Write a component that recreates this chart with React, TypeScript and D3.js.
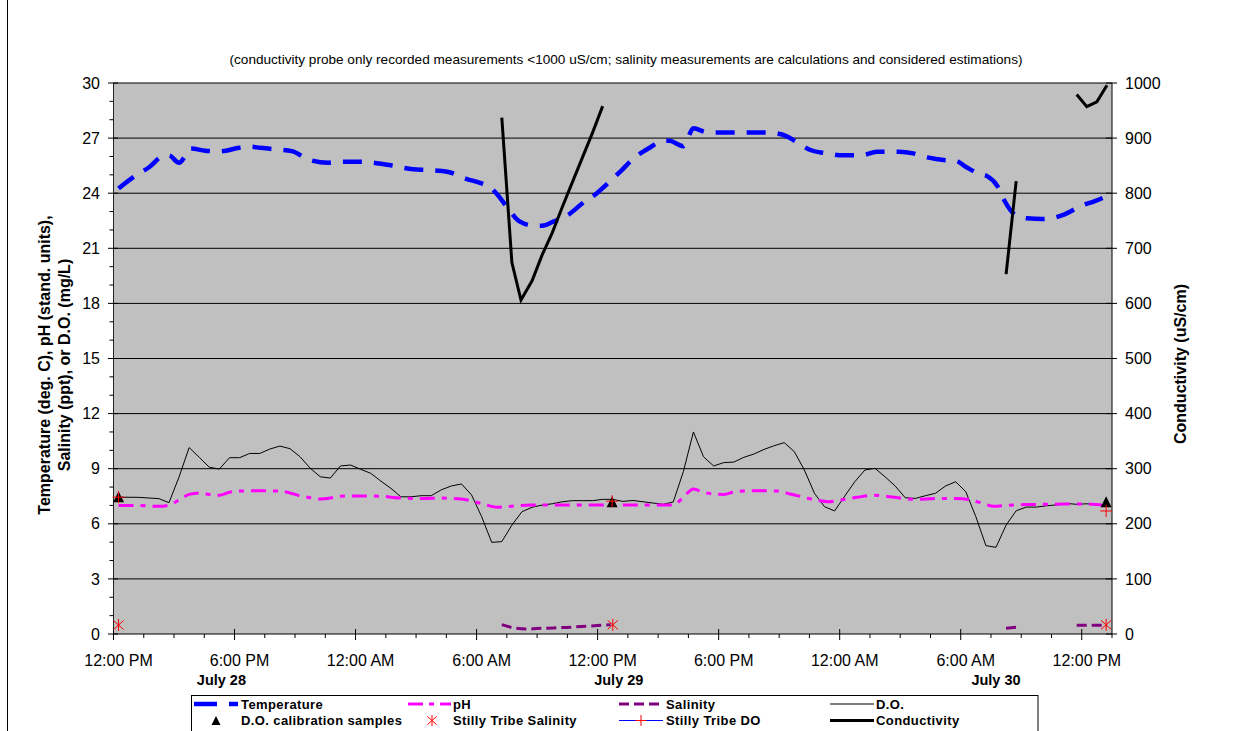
import React from "react";
import * as d3 from "d3";

// ---- data (hours since 12:00 PM July 28) ----
const temperature: [number, number][] = [
  [0, 24.26], [0.9, 25.0], [1.5, 25.4], [2.2, 26.02], [2.5, 26.05], [3.0, 25.66], [3.6, 26.44],
  [4.3, 26.31], [5, 26.28], [6, 26.47], [6.6, 26.53], [7, 26.47], [7.7, 26.4], [8.6, 26.29],
  [9.4, 25.84], [10.4, 25.66], [11, 25.71], [12, 25.71], [12.9, 25.62], [13.6, 25.5], [14.6, 25.3],
  [15.4, 25.26], [16.3, 25.17], [17.2, 24.8], [18.0, 24.53], [18.4, 24.35], [18.8, 23.9],
  [19.25, 23.26], [19.9, 22.45], [20.6, 22.23], [21, 22.23], [21.55, 22.45], [22.2, 22.75],
  [23.0, 23.45], [23.7, 23.99], [24.4, 24.68], [24.95, 25.26], [25.5, 25.86], [26.35, 26.49],
  [27, 26.85], [27.3, 26.85], [28.0, 26.56], [28.5, 27.53], [29.2, 27.31], [30.2, 27.31],
  [31, 27.31], [32, 27.31], [32.6, 27.26], [33.1, 27.11], [33.6, 26.8], [34.3, 26.35],
  [35.1, 26.17], [35.9, 26.06], [36.8, 26.06], [37.6, 26.26], [38.7, 26.26], [39.4, 26.17],
  [40.1, 25.95], [41.0, 25.8], [41.5, 25.77], [42.0, 25.44], [42.7, 25.04], [43.06, 24.93],
  [43.56, 24.4], [43.9, 23.63], [44.4, 22.86], [45.05, 22.63], [45.8, 22.59], [46.9, 22.85],
  [47.7, 23.3], [48.4, 23.57], [49, 23.84],
];

const ph: [number, number][] = [
  [0, 7.0], [1, 7.0], [2, 6.95], [2.5, 7.02], [3, 7.3], [3.5, 7.6], [4, 7.68], [4.5, 7.6],
  [5, 7.55], [5.5, 7.72], [6, 7.78], [7, 7.8], [8, 7.78], [8.5, 7.68], [9, 7.52], [9.5, 7.42],
  [10, 7.35], [10.5, 7.4], [11, 7.5], [12, 7.52], [13, 7.5], [14, 7.4], [15, 7.38], [16, 7.4],
  [17, 7.35], [18, 7.1], [18.8, 6.9], [19.5, 6.96], [20.5, 7.02], [22, 7.02], [24, 7.02],
  [26, 7.02], [27.5, 7.02], [28, 7.45], [28.5, 7.89], [29, 7.72], [29.5, 7.62], [30, 7.6],
  [30.5, 7.73], [31, 7.78], [32, 7.8], [32.7, 7.78], [33.3, 7.62], [34, 7.44], [34.5, 7.31],
  [35.2, 7.2], [35.8, 7.3], [36.6, 7.44], [37.4, 7.55], [38, 7.51], [38.9, 7.38], [39.5, 7.33],
  [40.5, 7.38], [41.5, 7.38], [42.2, 7.31], [42.9, 7.09], [43.4, 6.95], [44, 7.0], [45, 7.05],
  [46, 7.06], [47, 7.08], [48, 7.08], [49, 6.98],
];

const salinity: [number, number | null][] = [
  [19.0, 0.51], [19.6, 0.33], [20.2, 0.27], [21, 0.31], [22.2, 0.36], [23.9, 0.47], [24.4, 0.5],
  [25, null],
  [44, 0.31], [44.7, 0.4],
  [45, null],
  [47.5, 0.47], [49, 0.47],
];

const dissolvedOxygen: [number, number][] = [
  [0, 7.45], [1, 7.44], [2, 7.37], [2.5, 7.15], [3, 8.55], [3.5, 10.15], [4, 9.62], [4.5, 9.08],
  [5, 8.98], [5.5, 9.6], [6, 9.6], [6.5, 9.83], [7, 9.83], [7.5, 10.07], [8, 10.23], [8.5, 10.09],
  [9, 9.65], [9.5, 9.03], [10, 8.56], [10.5, 8.49], [11, 9.15], [11.5, 9.2], [12, 8.97],
  [12.5, 8.75], [13, 8.33], [13.5, 7.93], [14, 7.47], [14.5, 7.47], [15, 7.53], [15.5, 7.53],
  [16, 7.85], [16.5, 8.06], [17, 8.17], [17.5, 7.57], [18, 6.39], [18.5, 4.99], [19, 5.03],
  [19.5, 5.93], [20, 6.66], [20.5, 6.9], [21, 7.02], [21.5, 7.09], [22, 7.2], [22.5, 7.26],
  [23, 7.26], [23.5, 7.26], [24, 7.33], [24.5, 7.33], [25, 7.22], [25.5, 7.27], [26, 7.2],
  [26.5, 7.13], [27, 7.06], [27.5, 7.19], [28, 8.84], [28.5, 11.0], [29, 9.65], [29.5, 9.15],
  [30, 9.33], [30.5, 9.36], [31, 9.62], [31.5, 9.8], [32, 10.05], [32.5, 10.25], [33, 10.42],
  [33.5, 9.93], [34, 8.93], [34.5, 7.66], [35, 6.93], [35.5, 6.7], [36, 7.51], [36.5, 8.29],
  [37, 8.93], [37.5, 9.02], [38, 8.56], [38.5, 8.06], [39, 7.42], [39.5, 7.38], [40, 7.53],
  [40.5, 7.66], [41, 8.06], [41.5, 8.29], [42, 7.75], [42.5, 6.39], [43, 4.81], [43.5, 4.72],
  [44, 5.93], [44.5, 6.71], [45, 6.91], [45.5, 6.91], [46, 6.98], [46.5, 7.03], [47, 7.11],
  [47.5, 7.06], [48, 7.09], [49, 6.98],
];

const conductivity: [number, number | null][] = [
  [19.0, 937], [19.5, 674], [19.95, 606], [20.5, 641], [21.0, 688], [21.5, 728], [22, 775],
  [22.5, 820], [23, 865], [23.5, 910], [24, 958],
  [25, null],
  [44.0, 653], [44.5, 822],
  [45, null],
  [47.5, 979], [48, 957], [48.5, 966], [49, 996],
];

const calibrationSamples: [number, number][] = [[0, 7.47], [24.47, 7.2], [48.96, 7.2]];
const stillySalinity: [number, number][] = [[0, 0.49], [24.5, 0.5], [48.96, 0.5]];
const stillyDO: [number, number][] = [[0, 7.45], [24.47, 7.23], [48.96, 6.7]];

const timeLabels = ["12:00 PM", "6:00 PM", "12:00 AM", "6:00 AM", "12:00 PM", "6:00 PM", "12:00 AM", "6:00 AM", "12:00 PM"];
const dayLabels: [string, number][] = [["July 28", 5.1], ["July 29", 24.8], ["July 30", 43.5]];
const leftTicks = d3.range(0, 31, 3);
const rightTicks = d3.range(0, 1001, 100);

const titleText = "(conductivity probe only recorded measurements <1000 uS/cm; salinity measurements are calculations and considered estimations)";

const FONT = "'Liberation Sans', Arial, sans-serif";

export default function App() {
  const x = d3.scaleLinear().domain([-0.25, 49.25]).range([113.5, 1112]);
  const yL = d3.scaleLinear().domain([0, 30]).range([634, 83]);
  const yR = d3.scaleLinear().domain([0, 1000]).range([634, 83]);

  const lineL = d3.line<[number, number]>().x(d => x(d[0])).y(d => yL(d[1]));
  const smoothL = d3.line<[number, number]>().x(d => x(d[0])).y(d => yL(d[1])).curve(d3.curveMonotoneX);
  const salLine = d3.line<[number, number | null]>().defined(d => d[1] !== null)
    .x(d => x(d[0])).y(d => yL(d[1] as number)).curve(d3.curveMonotoneX);
  const condLine = d3.line<[number, number | null]>().defined(d => d[1] !== null)
    .x(d => x(d[0])).y(d => yR(d[1] as number));

  const xTicks = d3.range(0, 34).map(k => ({ h: -0.25 + 1.5 * k, major: k % 4 === 0 }));
  const [x0, x1] = x.range();
  const [yb, yt] = yL.range();

  const tri = (cx: number, cy: number, s = 5.5) =>
    `M${cx},${cy - s} L${cx + s},${cy + s} L${cx - s},${cy + s} Z`;
  const plus = (cx: number, cy: number, s = 6) =>
    `M${cx - s},${cy} L${cx + s},${cy} M${cx},${cy - s} L${cx},${cy + s}`;
  const star = (cx: number, cy: number, s = 6) =>
    `M${cx - s * 0.85},${cy - s * 0.75} L${cx + s * 0.85},${cy + s * 0.75} M${cx + s * 0.85},${cy - s * 0.75} L${cx - s * 0.85},${cy + s * 0.75} M${cx},${cy - s} L${cx},${cy + s}`;

  const legendText = { fontFamily: FONT, fontSize: 13, fontWeight: 700, letterSpacing: 0.4 } as const;
  const r1 = 704, r2 = 720.5;

  return (
    <svg width={1239} height={731} style={{ position: "absolute", left: 0, top: 0, background: "#fff" }}>
      {/* chart border */}
      <line x1={7.5} y1={0} x2={7.5} y2={731} stroke="#000" strokeWidth={1} />

      {/* title */}
      <text x={626} y={63.5} textAnchor="middle" fontFamily={FONT} fontSize={13.6}>{titleText}</text>

      {/* plot area */}
      <rect x={x0} y={yt} width={x1 - x0} height={yb - yt} fill="#C0C0C0" />
      {leftTicks.filter(v => v > 0).map(v => (
        <line key={"g" + v} x1={x0} x2={x1} y1={yL(v)} y2={yL(v)} stroke="#000" strokeWidth={1} />
      ))}
      <line x1={x0} x2={x0} y1={yt} y2={yb} stroke="#222" strokeWidth={1} />
      <line x1={x1} x2={x1} y1={yt} y2={yb} stroke="#000" strokeWidth={1} />
      <line x1={x0} x2={x1} y1={yb} y2={yb} stroke="#000" strokeWidth={1} />

      {/* left axis ticks */}
      {d3.range(0, 31).map(v => (
        v % 3 === 0
          ? <line key={"lt" + v} x1={108} x2={118} y1={yL(v)} y2={yL(v)} stroke="#000" strokeWidth={1} />
          : <line key={"lt" + v} x1={109.5} x2={113.5} y1={yL(v)} y2={yL(v)} stroke="#000" strokeWidth={1} />
      ))}
      {leftTicks.map(v => (
        <text key={"ll" + v} x={100} y={yL(v)} dy="0.35em" textAnchor="end" fontFamily={FONT} fontSize={16}>{v}</text>
      ))}
      {/* right axis ticks */}
      {rightTicks.map(v => (
        <g key={"rt" + v}>
          <line x1={1106} x2={1117} y1={yR(v)} y2={yR(v)} stroke="#000" strokeWidth={1} />
          <text x={1125} y={yR(v)} dy="0.35em" textAnchor="start" fontFamily={FONT} fontSize={16}>{v}</text>
        </g>
      ))}
      {/* x axis ticks */}
      {xTicks.map((t, i) => (
        t.major
          ? <line key={"xt" + i} x1={x(t.h)} x2={x(t.h)} y1={yb - 5} y2={yb + 6} stroke="#000" strokeWidth={1} />
          : <line key={"xt" + i} x1={x(t.h)} x2={x(t.h)} y1={yb} y2={yb + 4} stroke="#000" strokeWidth={1} />
      ))}
      {timeLabels.map((l, i) => (
        <text key={"xl" + i} x={x(i * 6)} y={666} textAnchor="middle" fontFamily={FONT} fontSize={16}>{l}</text>
      ))}
      {dayLabels.map(([l, h]) => (
        <text key={l} x={x(h)} y={684.5} textAnchor="middle" fontFamily={FONT} fontSize={14.5} fontWeight={700}>{l}</text>
      ))}

      {/* axis titles */}
      <text transform="translate(44,365) rotate(-90)" textAnchor="middle" dominantBaseline="central" fontFamily={FONT} fontSize={16} fontWeight={700}>Temperature (deg. C), pH (stand. units),</text>
      <text transform="translate(64,365) rotate(-90)" textAnchor="middle" dominantBaseline="central" fontFamily={FONT} fontSize={16} fontWeight={700}>Salinity (ppt), or D.O. (mg/L)</text>
      <text transform="translate(1180.5,364) rotate(-90)" textAnchor="middle" dominantBaseline="central" fontFamily={FONT} fontSize={16} fontWeight={700}>Conductivity (uS/cm)</text>

      {/* series */}
      <path d={lineL(dissolvedOxygen) || ""} fill="none" stroke="#000" strokeWidth={1} />
      <path d={smoothL(ph) || ""} fill="none" stroke="#FF00FF" strokeWidth={3} strokeDasharray="15 7 5 7" />
      <path d={smoothL(temperature) || ""} fill="none" stroke="#0000FF" strokeWidth={4.5} strokeDasharray="19 12" />
      <path d={salLine(salinity) || ""} fill="none" stroke="#800080" strokeWidth={3} strokeDasharray="10 5" />
      <path d={condLine(conductivity) || ""} fill="none" stroke="#000" strokeWidth={3} strokeLinejoin="miter" />

      {calibrationSamples.map((d, i) => (
        <path key={"c" + i} d={tri(x(d[0]), yL(d[1]))} fill="#000" />
      ))}
      {stillySalinity.map((d, i) => (
        <path key={"s" + i} d={star(x(d[0]), yL(d[1]))} stroke="#FF0000" strokeWidth={1} fill="none" />
      ))}
      {stillyDO.map((d, i) => (
        <path key={"p" + i} d={plus(x(d[0]), yL(d[1]))} stroke="#FF0000" strokeWidth={1} fill="none" />
      ))}

      {/* legend */}
      <rect x={191.5} y={695.5} width={846.5} height={40} fill="#fff" stroke="#000" strokeWidth={1} />
      <line x1={194} x2={238} y1={r1} y2={r1} stroke="#0000FF" strokeWidth={4.5} strokeDasharray="23 12" />
      <text x={241} y={r1 + 4.5} {...legendText}>Temperature</text>
      <line x1={408} x2={451} y1={r1} y2={r1} stroke="#FF00FF" strokeWidth={3} strokeDasharray="15 6 5 6" />
      <text x={453} y={r1 + 4.5} {...legendText}>pH</text>
      <line x1={619} x2={663} y1={r1} y2={r1} stroke="#800080" strokeWidth={3} strokeDasharray="10 5" />
      <text x={666} y={r1 + 4.5} {...legendText}>Salinity</text>
      <line x1={830} x2={874} y1={r1} y2={r1} stroke="#808080" strokeWidth={2} />
      <text x={876} y={r1 + 4.5} {...legendText}>D.O.</text>

      <path d={tri(216, r2, 4.5)} fill="#000" />
      <text x={241} y={r2 + 4.5} {...legendText}>D.O. calibration samples</text>
      <path d={star(432, r2, 5.5)} stroke="#FF0000" strokeWidth={1} fill="none" />
      <text x={453} y={r2 + 4.5} {...legendText}>Stilly Tribe Salinity</text>
      <line x1={619} x2={663} y1={r2} y2={r2} stroke="#0000FF" strokeWidth={1} />
      <path d={plus(641, r2, 5.5)} stroke="#FF0000" strokeWidth={1} fill="none" />
      <text x={666} y={r2 + 4.5} {...legendText}>Stilly Tribe DO</text>
      <line x1={830} x2={874} y1={r2} y2={r2} stroke="#000" strokeWidth={3} />
      <text x={876} y={r2 + 4.5} {...legendText}>Conductivity</text>
    </svg>
  );
}
